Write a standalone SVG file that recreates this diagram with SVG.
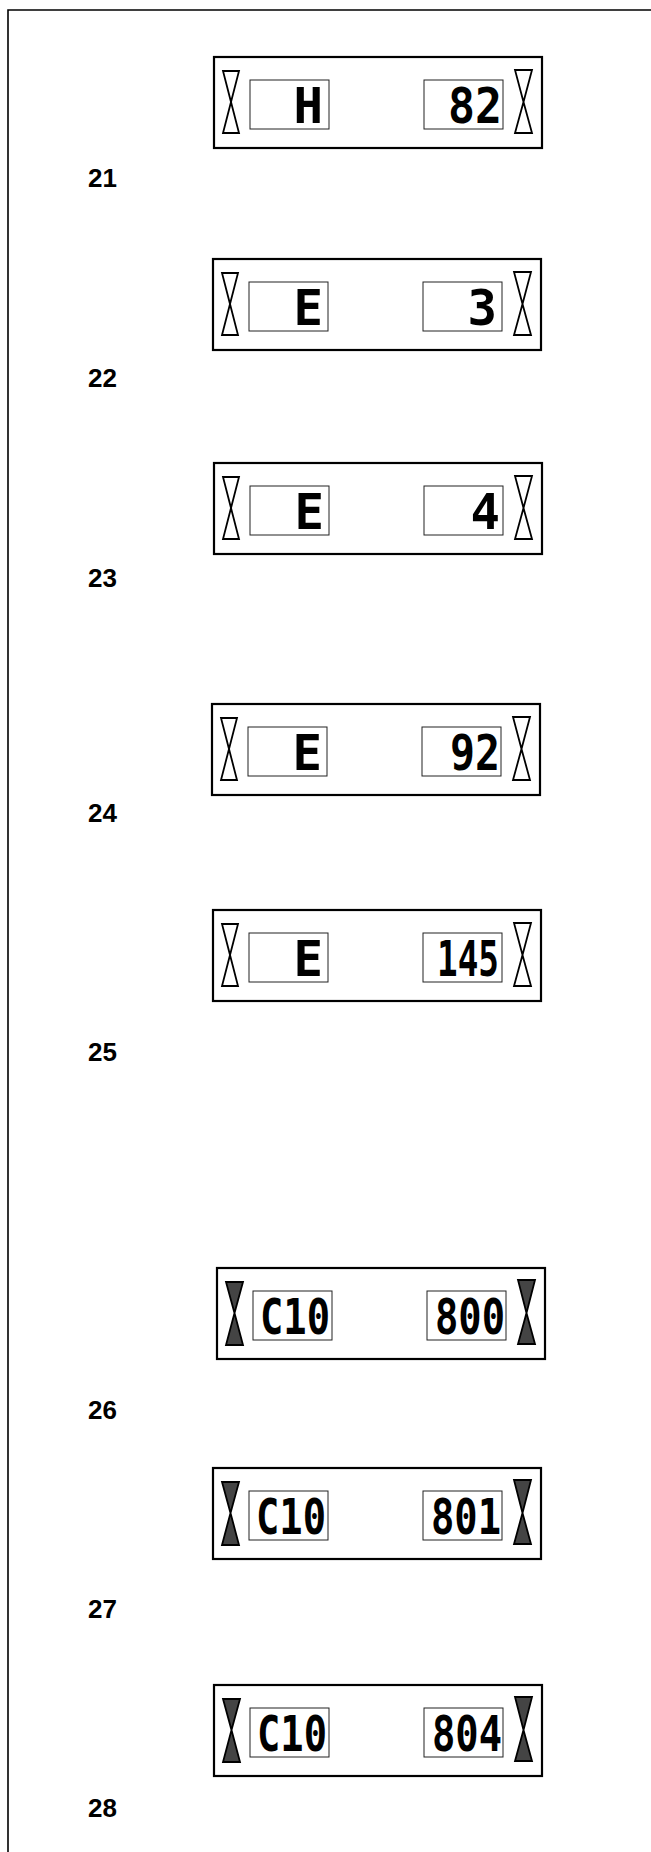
<svg xmlns="http://www.w3.org/2000/svg" width="651" height="1852" viewBox="0 0 651 1852">
<style>
.frame{fill:none;stroke:#000;stroke-width:1.6}
.box{fill:#fff;stroke:#000;stroke-width:2.2}
.win{fill:#fff;stroke:#222;stroke-width:1}
.tri{fill:#fff;stroke:#000;stroke-width:1.8;stroke-linejoin:miter}
.tri.on{fill:#444}
.seg{font-family:"DejaVu Sans Mono","Liberation Mono",monospace;font-weight:bold;font-size:49px;fill:#000;text-anchor:end}
.lbl{font-family:"Liberation Sans",Arial,sans-serif;font-weight:bold;font-size:26px;fill:#000}
</style>
<defs>
<g id="panel">
<rect class="box" x="0" y="0" width="328" height="91"/>
<rect class="win" x="36" y="23" width="79" height="49"/>
<rect class="win" x="210" y="23" width="79" height="49"/>
</g>
<g id="triOff">
<path class="tri" d="M9,14 L25,14 L17,45 Z M17,45 L25,76 L9,76 Z"/>
<path class="tri" d="M301,13 L318,13 L309.5,45 Z M309.5,45 L318,76 L301,76 Z"/>
</g>
<g id="triOn">
<path class="tri on" d="M9,14 L26,14 L17.5,45 Z M17.5,45 L26,77 L9,77 Z"/>
<path class="tri on" d="M301,12 L318,12 L309.5,45 Z M309.5,45 L318,76 L301,76 Z"/>
</g>
</defs>
<g id="connectors"><path class="frame" d="M8,1852 V10 H651"/></g>

<g id="display21" transform="translate(214,57)">
<use href="#panel"/><use href="#triOff"/>
<text class="seg" x="109" y="66">H</text>
<text class="seg" x="288" y="66" textLength="54" lengthAdjust="spacingAndGlyphs">82</text>
</g>
<text id="label21" class="lbl" x="88" y="187">21</text>

<g id="display22" transform="translate(213,259)">
<use href="#panel"/><use href="#triOff"/>
<text class="seg" x="110" y="66">E</text>
<text class="seg" x="284" y="66">3</text>
</g>
<text id="label22" class="lbl" x="88" y="387">22</text>

<g id="display23" transform="translate(214,463)">
<use href="#panel"/><use href="#triOff"/>
<text class="seg" x="110" y="66">E</text>
<text class="seg" x="286" y="66">4</text>
</g>
<text id="label23" class="lbl" x="88" y="587">23</text>

<g id="display24" transform="translate(212,704)">
<use href="#panel"/><use href="#triOff"/>
<text class="seg" x="110" y="66">E</text>
<text class="seg" x="288" y="66" textLength="50" lengthAdjust="spacingAndGlyphs">92</text>
</g>
<text id="label24" class="lbl" x="88" y="822">24</text>

<g id="display25" transform="translate(213,910)">
<use href="#panel"/><use href="#triOff"/>
<text class="seg" x="110" y="66">E</text>
<text class="seg" x="286" y="66" textLength="62" lengthAdjust="spacingAndGlyphs">145</text>
</g>
<text id="label25" class="lbl" x="88" y="1061">25</text>

<g id="display26" transform="translate(217,1268)">
<use href="#panel"/><use href="#triOn"/>
<text class="seg" x="113" y="66" textLength="70" lengthAdjust="spacingAndGlyphs">C10</text>
<text class="seg" x="288" y="66" textLength="70" lengthAdjust="spacingAndGlyphs">800</text>
</g>
<text id="label26" class="lbl" x="88" y="1419">26</text>

<g id="display27" transform="translate(213,1468)">
<use href="#panel"/><use href="#triOn"/>
<text class="seg" x="113" y="66" textLength="70" lengthAdjust="spacingAndGlyphs">C10</text>
<text class="seg" x="288" y="66" textLength="70" lengthAdjust="spacingAndGlyphs">801</text>
</g>
<text id="label27" class="lbl" x="88" y="1618">27</text>

<g id="display28" transform="translate(214,1685)">
<use href="#panel"/><use href="#triOn"/>
<text class="seg" x="113" y="66" textLength="70" lengthAdjust="spacingAndGlyphs">C10</text>
<text class="seg" x="288" y="66" textLength="70" lengthAdjust="spacingAndGlyphs">804</text>
</g>
<text id="label28" class="lbl" x="88" y="1817">28</text>
</svg>
